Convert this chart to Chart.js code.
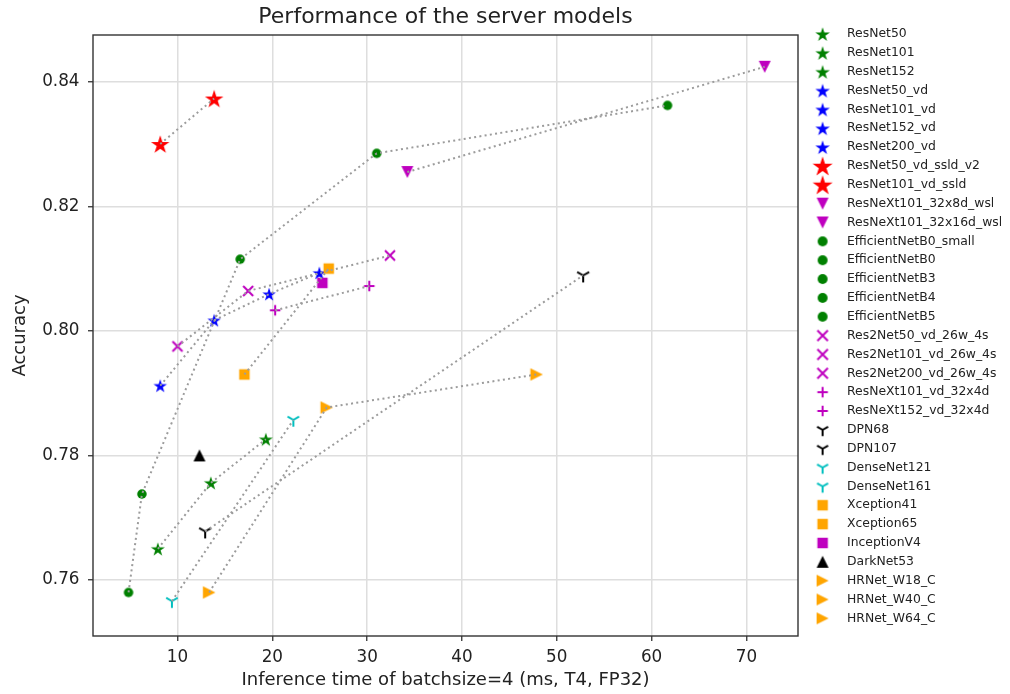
<!DOCTYPE html>
<html>
<head>
<meta charset="utf-8">
<script src="https://cdn.jsdelivr.net/npm/chart.js@4.4.0/dist/chart.umd.min.js"></script>
<style>
  body { margin: 0; background: #fff; }
</style>
</head>
<body>
<canvas id="myChart" width="1010" height="694"></canvas>
<script>
// values
const modelNames = [
  "ResNet50", "ResNet101", "ResNet152",
  "ResNet50_vd", "ResNet101_vd", "ResNet152_vd", "ResNet200_vd",
  "ResNet50_vd_ssld_v2", "ResNet101_vd_ssld",
  "ResNeXt101_32x8d_wsl", "ResNeXt101_32x16d_wsl",
  "EfficientNetB0_small", "EfficientNetB0", "EfficientNetB3", "EfficientNetB4", "EfficientNetB5",
  "Res2Net50_vd_26w_4s", "Res2Net101_vd_26w_4s", "Res2Net200_vd_26w_4s",
  "ResNeXt101_vd_32x4d", "ResNeXt152_vd_32x4d",
  "DPN68", "DPN107",
  "DenseNet121", "DenseNet161",
  "Xception41", "Xception65",
  "InceptionV4",
  "DarkNet53",
  "HRNet_W18_C", "HRNet_W40_C", "HRNet_W64_C"
];
const inferenceTime = [
  7.93, 13.52, 19.32,
  8.18, 13.87, 19.66, 24.96,
  8.18, 13.87,
  34.24, 71.93,
  4.84, 6.25, 16.61, 31.01, 61.68,
  10.0, 17.45, 32.41,
  20.30, 30.23,
  12.92, 52.78,
  9.41, 22.22,
  17.06, 25.95,
  25.28,
  12.32,
  13.34, 25.74, 47.87
];
const accuracy = [
  0.7650, 0.7756, 0.7826,
  0.7912, 0.8017, 0.8059, 0.8093,
  0.8300, 0.8373,
  0.8255, 0.8424,
  0.7580, 0.7738, 0.8115, 0.8285, 0.8362,
  0.7975, 0.8064, 0.8121,
  0.8033, 0.8072,
  0.7678, 0.8089,
  0.7566, 0.7857,
  0.7930, 0.8100,
  0.8077,
  0.7800,
  0.7580, 0.7877, 0.7930
];
// models joined by the dotted lines
const families = [
  ["ResNet50", "ResNet101", "ResNet152"],
  ["ResNet50_vd", "ResNet101_vd", "ResNet152_vd", "ResNet200_vd"],
  ["ResNet50_vd_ssld_v2", "ResNet101_vd_ssld"],
  ["ResNeXt101_32x8d_wsl", "ResNeXt101_32x16d_wsl"],
  ["EfficientNetB0_small", "EfficientNetB0", "EfficientNetB3", "EfficientNetB4", "EfficientNetB5"],
  ["Res2Net50_vd_26w_4s", "Res2Net101_vd_26w_4s", "Res2Net200_vd_26w_4s"],
  ["ResNeXt101_vd_32x4d", "ResNeXt152_vd_32x4d"],
  ["DPN68", "DPN107"],
  ["DenseNet121", "DenseNet161"],
  ["Xception41", "Xception65"],
  ["HRNet_W18_C", "HRNet_W40_C", "HRNet_W64_C"]
];
const xTicks = [10, 20, 30, 40, 50, 60, 70];
const yTicks = [0.76, 0.78, 0.80, 0.82, 0.84];

// marker look: shape, colour, size on plot, size in legend
const green = "#008000", blue = "#0000ff", red = "#ff0000", mag = "#bf00bf",
      cyan = "#00bfbf", orange = "#ffa500", black = "#000000";
const markerLook = [
  ["star", green, 14, 14.5], ["star", green, 14, 14.5], ["star", green, 14, 14.5],
  ["star", blue, 13.5, 14.5], ["star", blue, 13.5, 14.5], ["star", blue, 13.5, 14.5], ["star", blue, 13.5, 14.5],
  ["star", red, 18.5, 20], ["star", red, 18.5, 20],
  ["tridown", mag, 12, 12], ["tridown", mag, 12, 12],
  ["circle", green, 9.5, 10], ["circle", green, 9.5, 10], ["circle", green, 9.5, 10], ["circle", green, 9.5, 10], ["circle", green, 9.5, 10],
  ["x", mag, 10, 10.5], ["x", mag, 10, 10.5], ["x", mag, 10, 10.5],
  ["plus", mag, 10.5, 10.5], ["plus", mag, 10.5, 10.5],
  ["y", black, 12, 11], ["y", black, 12, 11],
  ["y", cyan, 11.5, 11], ["y", cyan, 11.5, 11],
  ["square", orange, 10.5, 10.5], ["square", orange, 10.5, 10.5],
  ["square", mag, 10.5, 10.5],
  ["triup", black, 12, 12],
  ["triright", orange, 12.5, 12], ["triright", orange, 12.5, 12], ["triright", orange, 12.5, 12]
];

function makeMarker(shape, color, size) {
  let dim = Math.ceil(size + 6);
  if (dim % 2) dim++;
  const c = document.createElement("canvas");
  c.width = c.height = dim;
  const g = c.getContext("2d");
  g.translate(dim / 2, dim / 2);
  g.fillStyle = color;
  g.strokeStyle = color;
  g.lineWidth = 2;
  const r = size / 2;
  g.beginPath();
  if (shape == "star") {
    const R = size / 1.902;
    for (let k = 0; k < 10; k++) {
      const a = -Math.PI / 2 + k * Math.PI / 5;
      const rr = k % 2 ? R * 0.382 : R;
      g.lineTo(rr * Math.cos(a), rr * Math.sin(a) + R * 0.1);
    }
    g.closePath(); g.fill();
  } else if (shape == "circle") {
    g.arc(0, 0, r, 0, Math.PI * 2); g.fill();
  } else if (shape == "square") {
    g.rect(-r, -r, size, size); g.fill();
  } else if (shape == "tridown") {
    g.moveTo(-r, -r); g.lineTo(r, -r); g.lineTo(0, r); g.closePath(); g.fill();
  } else if (shape == "triup") {
    g.moveTo(0, -r); g.lineTo(r, r); g.lineTo(-r, r); g.closePath(); g.fill();
  } else if (shape == "triright") {
    g.moveTo(r, 0); g.lineTo(-r, -r); g.lineTo(-r, r); g.closePath(); g.fill();
  } else if (shape == "x") {
    g.moveTo(-r, -r); g.lineTo(r, r); g.moveTo(-r, r); g.lineTo(r, -r); g.stroke();
  } else if (shape == "plus") {
    g.moveTo(-r, 0); g.lineTo(r, 0); g.moveTo(0, -r); g.lineTo(0, r); g.stroke();
  } else if (shape == "y") {
    const a = size / 1.732;
    g.moveTo(0, 0); g.lineTo(0, a);
    g.moveTo(0, 0); g.lineTo(-a * 0.866, -a * 0.5);
    g.moveTo(0, 0); g.lineTo(a * 0.866, -a * 0.5);
    g.stroke();
  }
  return c;
}

const plotMarks = markerLook.map(m => makeMarker(m[0], m[1], m[2]));
const legendMarks = markerLook.map(m => makeMarker(m[0], m[1], m[3]));

const datasets = [];
families.forEach(fam => {
  datasets.push({
    label: "",
    isLink: true,
    data: fam.map(n => {
      const i = modelNames.indexOf(n);
      return { x: inferenceTime[i], y: accuracy[i] };
    }),
    showLine: true,
    pointRadius: 0,
    borderColor: "#9c9c9c",
    borderWidth: 2,
    borderDash: [2, 3.3],
    order: -1
  });
});
modelNames.forEach((n, i) => {
  datasets.push({
    label: n,
    data: [{ x: inferenceTime[i], y: accuracy[i] }],
    pointStyle: plotMarks[i],
    pointRadius: 5,
    order: modelNames.length - i
  });
});

// matplotlib style frame round the plot
const frame = {
  id: "frame",
  afterDraw(chart) {
    const a = chart.chartArea, ctx = chart.ctx;
    ctx.save();
    ctx.strokeStyle = "#333";
    ctx.lineWidth = 1.4;
    ctx.strokeRect(a.left, a.top, a.right - a.left, a.bottom - a.top);
    ctx.restore();
  }
};

const font = "'DejaVu Sans', sans-serif";

new Chart(document.getElementById("myChart"), {
  type: "scatter",
  data: { datasets: datasets },
  plugins: [frame],
  options: {
    responsive: false,
    animation: false,
    layout: { padding: 0 },
    scales: {
      x: {
        type: "linear",
        min: 1.09,
        max: 75.44,
        afterBuildTicks: s => { s.ticks = xTicks.map(v => ({ value: v })); },
        afterFit: s => { s.height = 58; },
        border: { display: false },
        grid: { color: "#dedede", lineWidth: 1.5, tickColor: "#333", tickLength: 5, tickWidth: 1.3 },
        ticks: { color: "#222", padding: 6.4, font: { family: font, size: 16.8 } },
        title: {
          display: true, text: "Inference time of batchsize=4 (ms, T4, FP32)",
          color: "#222", font: { family: font, size: 18 }, padding: { top: 0, bottom: 3.2 }
        }
      },
      y: {
        type: "linear",
        min: 0.75101,
        max: 0.8475,
        afterBuildTicks: s => { s.ticks = yTicks.map(v => ({ value: v })); },
        afterFit: s => { s.width = 93; },
        border: { display: false },
        grid: { color: "#dedede", lineWidth: 1.5, tickColor: "#333", tickLength: 5, tickWidth: 1.3 },
        ticks: { color: "#222", padding: 8.5, font: { family: font, size: 16.8 }, callback: v => v.toFixed(2) },
        title: {
          display: true, text: "Accuracy",
          color: "#222", font: { family: font, size: 18 }, padding: { top: 10, bottom: 0 }
        }
      }
    },
    plugins: {
      title: {
        display: true,
        fullSize: false,
        text: "Performance of the server models",
        color: "#222",
        font: { family: font, size: 22, weight: "normal" },
        padding: { top: 4, bottom: 4.6 }
      },
      tooltip: { enabled: false },
      legend: {
        position: "right",
        align: "start",
        maxWidth: 212,
        title: { display: true, text: "", font: { size: 10, lineHeight: 1 }, padding: { top: 0, bottom: 11.35 } },
        labels: {
          usePointStyle: true,
          pointStyleWidth: 36.35,
          padding: 6.45,
          color: "#222",
          font: { family: font, size: 12.4 },
          generateLabels: () => modelNames.map((n, i) => ({
            text: n,
            fontColor: "#222",
            pointStyle: legendMarks[i],
            fillStyle: markerLook[i][1],
            strokeStyle: markerLook[i][1],
            lineWidth: 0,
            hidden: false,
            datasetIndex: families.length + i
          }))
        }
      }
    }
  }
});
</script>
</body>
</html>
